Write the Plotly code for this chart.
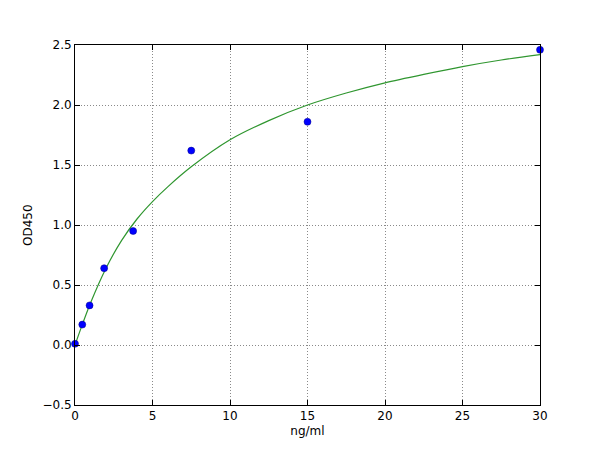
import plotly.graph_objects as go

# standard points
conc = [0, 0.47, 0.94, 1.88, 3.75, 7.5, 15, 30]
od450 = [0.01, 0.17, 0.33, 0.64, 0.95, 1.62, 1.86, 2.46]

# fitted curve
curve_x = [0, 0.5, 1, 2, 3, 4, 5, 6, 7.5, 10, 12.5, 15, 17.5, 20, 22.5, 25, 27.5, 30]
curve_y = [0.0, 0.18, 0.35, 0.64, 0.87, 1.05, 1.195, 1.32, 1.485, 1.71, 1.87, 2.00,
           2.10, 2.185, 2.255, 2.32, 2.375, 2.42]

x_ticks = [0, 5, 10, 15, 20, 25, 30]
y_ticks = [-0.5, 0.0, 0.5, 1.0, 1.5, 2.0, 2.5]

fig = go.Figure()
fig.add_trace(go.Scatter(x=curve_x, y=curve_y, mode="lines",
                         line=dict(color="#2f962f", width=1.2, shape="spline", smoothing=0.8),
                         cliponaxis=True))
fig.add_trace(go.Scatter(x=conc, y=od450, mode="markers",
                         marker=dict(color="#0000ff", size=7,
                                     line=dict(color="#00008b", width=0.5)),
                         cliponaxis=False))

axis_style = dict(showline=True, linecolor="black", linewidth=1, mirror="ticks",
                  ticks="inside", ticklen=5, tickcolor="black",
                  showgrid=True, gridcolor="#8a8a8a", griddash="1px,2px", gridwidth=1,
                  zeroline=False, automargin=False, tickfont=dict(size=12, color="black"))

fig.update_xaxes(range=[0, 30], tickvals=x_ticks, ticktext=[str(t) for t in x_ticks],
                 title=dict(text="ng/ml", font=dict(size=12, color="black"), standoff=4),
                 **axis_style)
fig.update_yaxes(range=[-0.5, 2.5], tickvals=y_ticks,
                 ticktext=[f"{t:.1f}".replace("-", "\u2212") for t in y_ticks],
                 **axis_style)

# y title as an annotation so it sits where matplotlib put it
fig.add_annotation(text="OD450", textangle=-90, showarrow=False,
                   xref="paper", yref="paper", x=0, y=0.5,
                   xanchor="center", yanchor="middle", xshift=-47,
                   font=dict(size=12, color="black"))

# page body adds an 8px offset, so the margins are shifted to land the plot at 75..540 x 45..405
fig.update_layout(width=600, height=450, showlegend=False,
                  margin=dict(l=67, r=68, t=37, b=53),
                  plot_bgcolor="white", paper_bgcolor="white",
                  font=dict(family="DejaVu Sans", size=12, color="black"))

fig.write_html("out.html")
